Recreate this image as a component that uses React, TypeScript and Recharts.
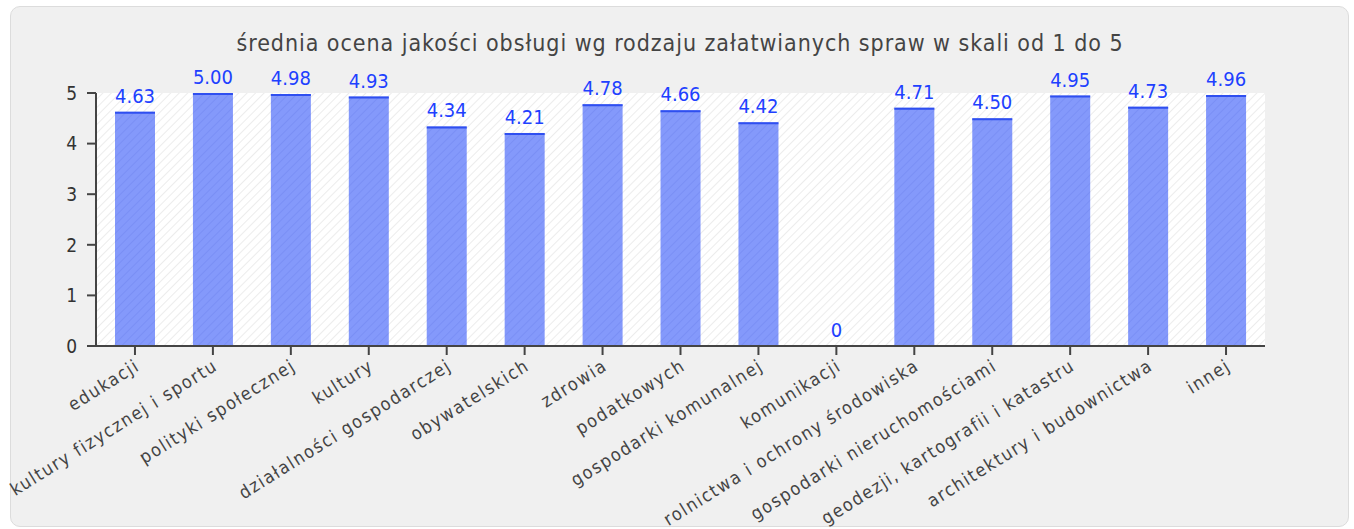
import React from 'react';
import {
  BarChart,
  Bar,
  XAxis,
  YAxis,
  CartesianGrid,
  LabelList,
} from 'recharts';

const categories = [
  'edukacji',
  'kultury fizycznej i sportu',
  'polityki społecznej',
  'kultury',
  'działalności gospodarczej',
  'obywatelskich',
  'zdrowia',
  'podatkowych',
  'gospodarki komunalnej',
  'komunikacji',
  'rolnictwa i ochrony środowiska',
  'gospodarki nieruchomościami',
  'geodezji, kartografii i katastru',
  'architektury i budownictwa',
  'innej',
];

const scores = [4.63, 5.0, 4.98, 4.93, 4.34, 4.21, 4.78, 4.66, 4.42, 0, 4.71, 4.5, 4.95, 4.73, 4.96];

const yTicks = [0, 1, 2, 3, 4, 5];

const title = 'średnia ocena jakości obsługi wg rodzaju załatwianych spraw w skali od 1 do 5';

const data = categories.map((name, i) => ({ name, value: scores[i] }));

const FONT = '"DejaVu Sans Condensed", "DejaVu Sans", Verdana, sans-serif';

// bar body with hatching and a darker top edge
const HatchedBar = (props: any) => {
  const { x, y, width, height } = props;
  if (!height || height <= 0) return null;
  return (
    <g>
      <rect x={x} y={y} width={width} height={height} fill="url(#barHatch)" />
      <line x1={x} x2={x + width} y1={y + 1} y2={y + 1} stroke="#2f4ff0" strokeWidth={2} />
    </g>
  );
};

const AngledTick = (props: any) => {
  const { x, y, payload } = props;
  return (
    <g transform={`translate(${x + 6},${y + 12})`}>
      <text
        x={0}
        y={0}
        textAnchor="end"
        transform="rotate(-32)"
        fill="#444"
        fontSize={18}
        fontFamily={FONT}
        style={{ fontStretch: 'condensed', letterSpacing: 1.6 }}
      >
        {payload.value}
      </text>
    </g>
  );
};

export default function App() {
  return (
    <div style={{ position: 'absolute', left: 0, top: 0, width: 1354, height: 529, background: '#fff' }}>
      <svg width={0} height={0} style={{ position: 'absolute' }}>
        <defs>
          <pattern id="plotHatch" width={6} height={6} patternUnits="userSpaceOnUse" patternTransform="rotate(45)">
            <rect width={6} height={6} fill="#ffffff" />
            <line x1={0} y1={0} x2={0} y2={6} stroke="#ececec" strokeWidth={2} />
          </pattern>
          <pattern id="barHatch" width={6} height={6} patternUnits="userSpaceOnUse" patternTransform="rotate(45)">
            <rect width={6} height={6} fill="#8499fb" />
            <line x1={0} y1={0} x2={0} y2={6} stroke="#7a8ff5" strokeWidth={2} />
          </pattern>
        </defs>
      </svg>
      <div
        style={{
          position: 'absolute',
          left: 10,
          top: 6,
          width: 1337,
          height: 519,
          background: '#f0f0f0',
          border: '1px solid #dcdcdc',
          borderRadius: 10,
        }}
      />
      <div
        style={{
          position: 'absolute',
          left: 0,
          width: 1360,
          top: 30,
          textAlign: 'center',
          fontFamily: FONT,
          fontStretch: 'condensed',
          fontSize: 23,
          letterSpacing: 0.95,
          color: '#444',
        }}
      >
        {title}
      </div>
      <div style={{ position: 'absolute', left: 0, top: 0 }}>
        <BarChart
          width={1354}
          height={529}
          data={data}
          margin={{ top: 93, right: 89, left: 46, bottom: 13 }}
          barSize={40}
        >
          <CartesianGrid fill="url(#plotHatch)" stroke="none" vertical={false} horizontal={false} />
          <XAxis
            dataKey="name"
            interval={0}
            height={170}
            tick={<AngledTick />}
            tickSize={9}
            axisLine={{ stroke: '#444', strokeWidth: 2 }}
            tickLine={{ stroke: '#444', strokeWidth: 2 }}
          />
          <YAxis
            domain={[0, 5]}
            ticks={yTicks}
            width={50}
            tickSize={9}
            tickMargin={10}
            tick={{ fill: '#333', fontSize: 19, fontFamily: FONT, style: { fontStretch: 'condensed' } }}
            axisLine={{ stroke: '#444', strokeWidth: 2 }}
            tickLine={{ stroke: '#444', strokeWidth: 2 }}
          />
          <Bar dataKey="value" shape={<HatchedBar />} isAnimationActive={false}>
            <LabelList
              dataKey="value"
              position="top"
              offset={9}
              fill="#2040ff"
              fontSize={20}
              fontFamily={FONT}
              style={{ fontStretch: 'condensed' }}
              formatter={(v: any) => (v === 0 ? '0' : Number(v).toFixed(2))}
            />
          </Bar>
        </BarChart>
      </div>
    </div>
  );
}
